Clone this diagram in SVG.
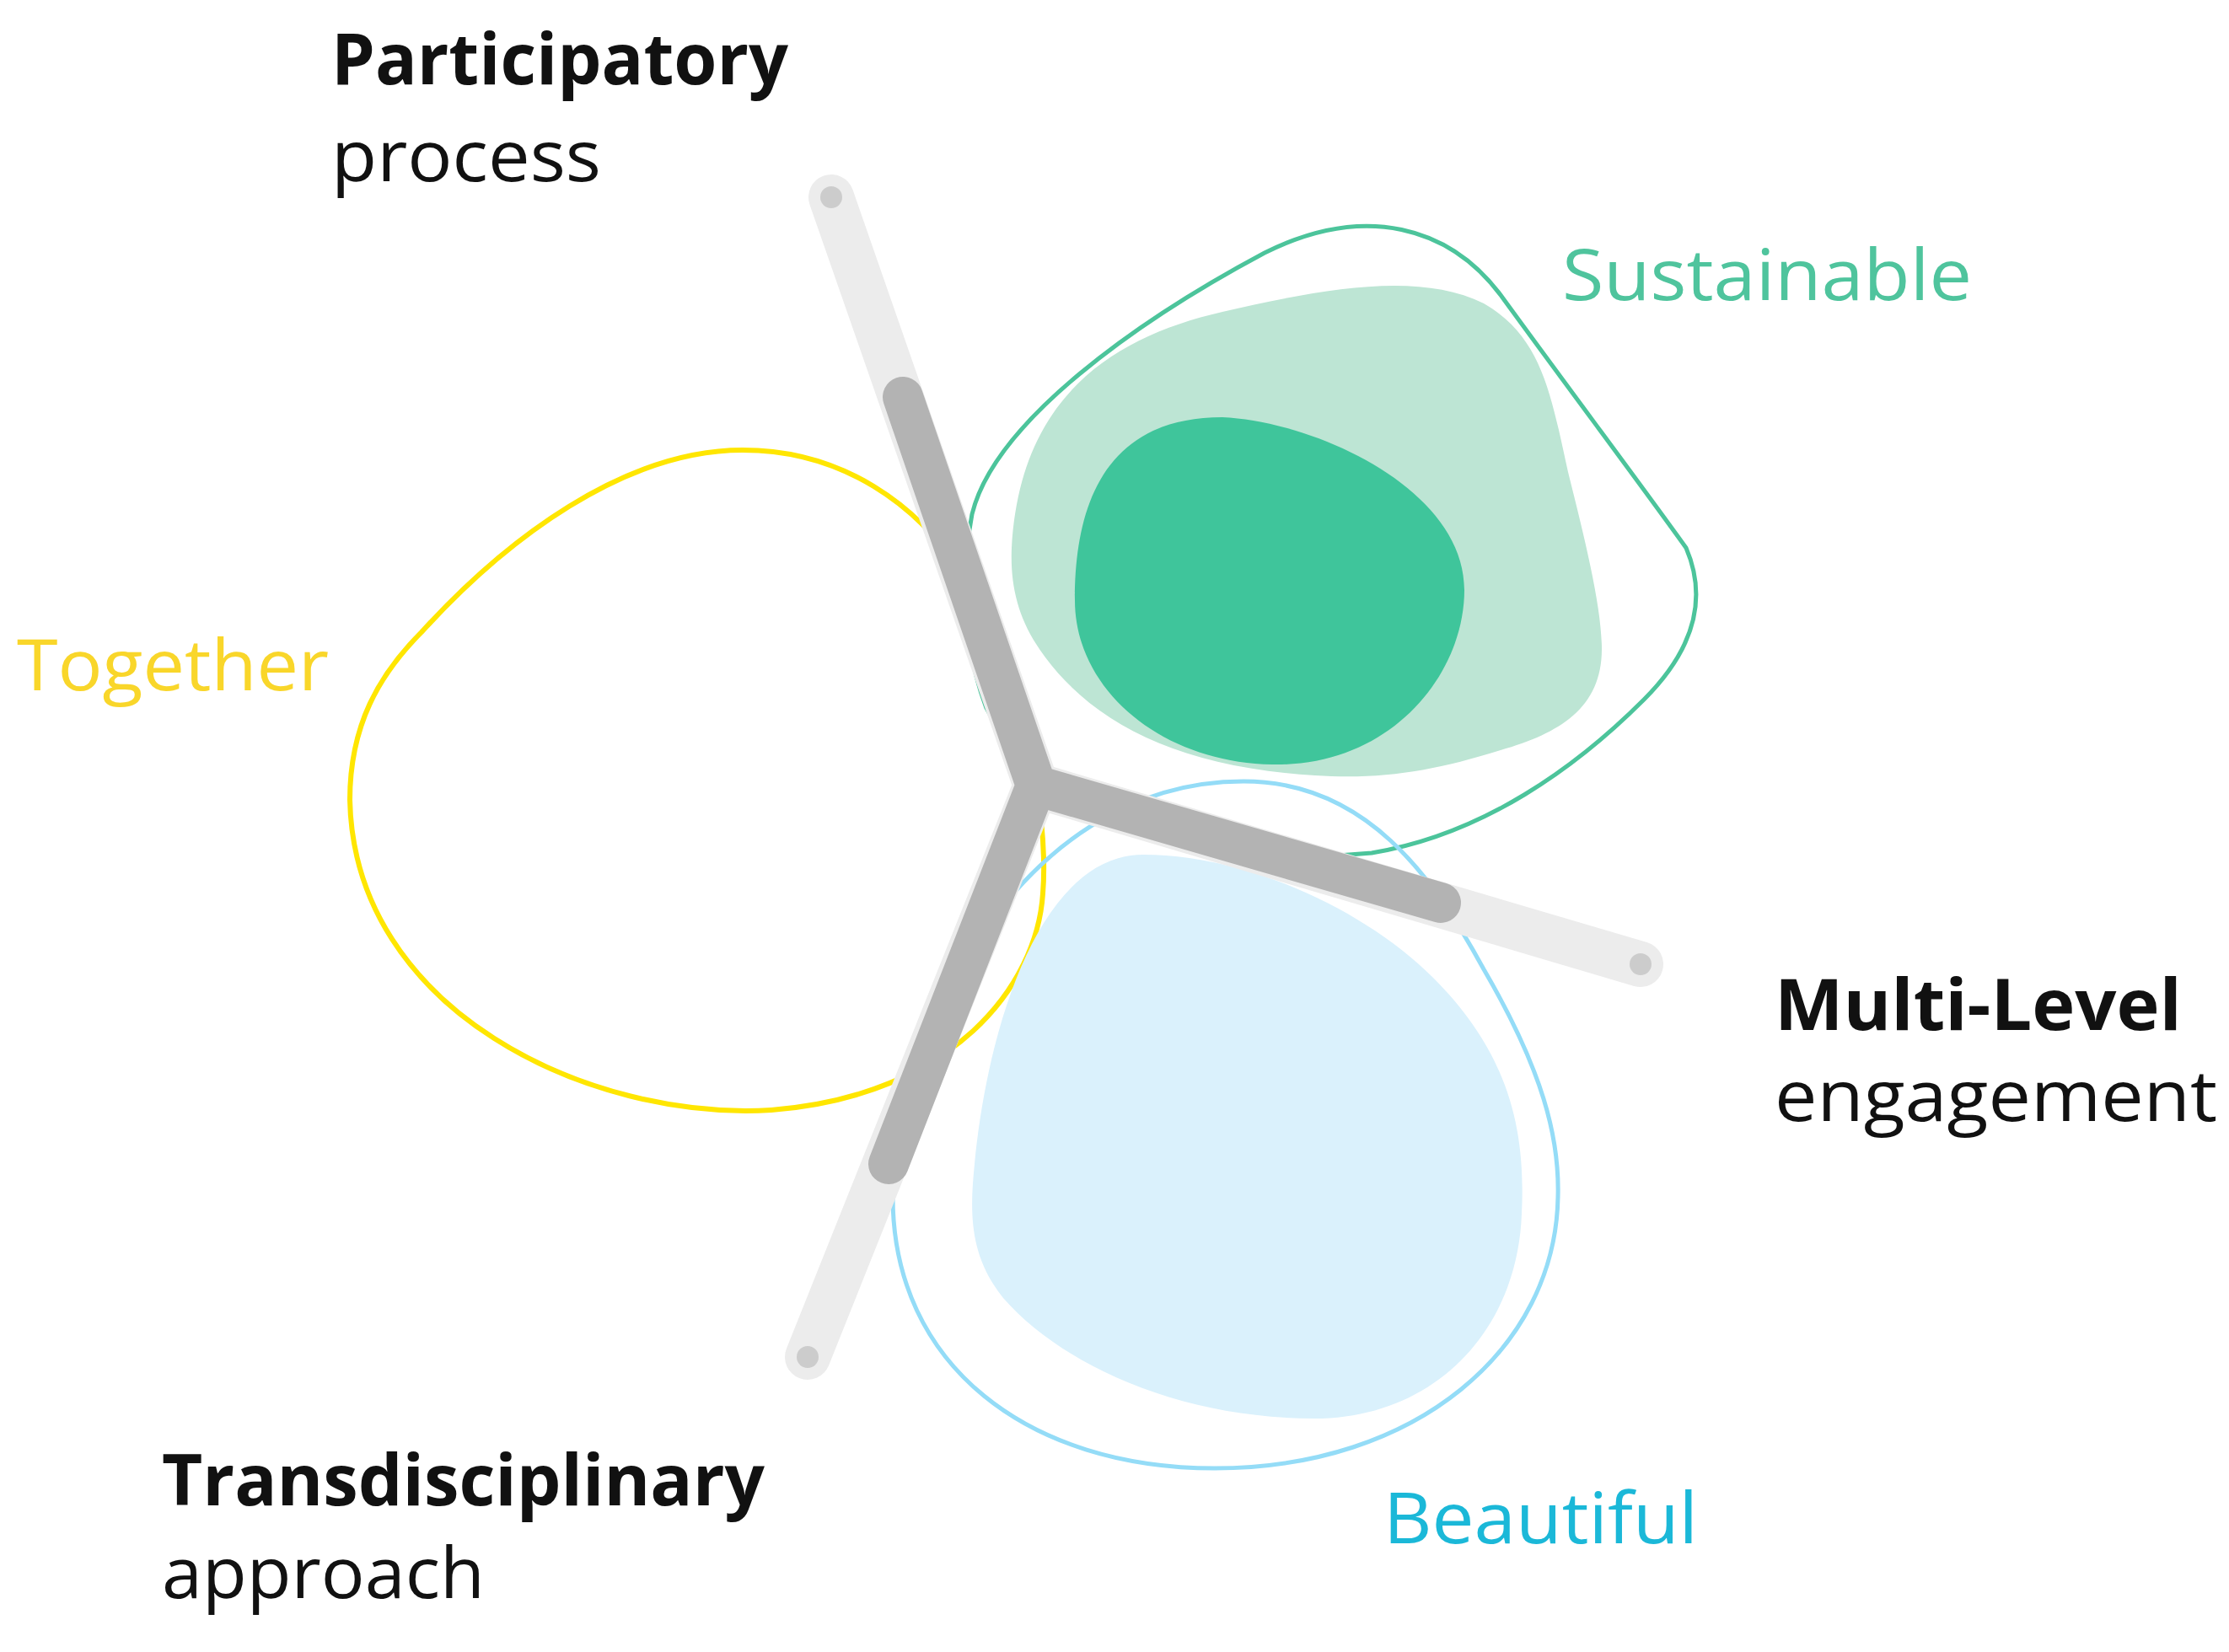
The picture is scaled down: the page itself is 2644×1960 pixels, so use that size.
<svg xmlns="http://www.w3.org/2000/svg" width="2644" height="1960" viewBox="0 0 2644 1960">
<style>
text{font-family:"Open Sans","Liberation Sans",sans-serif;font-size:84px}
.b{font-weight:bold;fill:#111}
.n{fill:#111}
.light{stroke:#ececec;stroke-width:54;stroke-linecap:round;fill:none}
.dark{stroke:#b3b3b3;stroke-width:48;stroke-linecap:round;stroke-linejoin:round;fill:none}
.dot{fill:#cccccc}
</style>
<rect width="2644" height="1960" fill="#fff"/>
<g id="together">
<path d="M881,534 C1000,534 1090,600 1140,680 C1210,790 1245,960 1237,1060 C1230,1170 1130,1300 915,1317 C700,1330 420,1200 415,949 C415,860 450,800 500,750 C600,640 740,534 881,534Z" fill="none" stroke="#ffe600" stroke-width="6"/>
<text x="20" y="819" fill="#f9d62a" textLength="370" lengthAdjust="spacingAndGlyphs">Together</text>
</g>
<g id="sustainable">
<path d="M1153,610 C1180,500 1350,380 1500,300 C1620,240 1720,270 1780,350 C1860,460 1950,580 2000,650 C2030,720 2000,780 1950,830 C1870,910 1760,990 1627,1012 C1450,1030 1230,960 1170,840 C1140,760 1140,680 1153,610Z" fill="none" stroke="#4cc49b" stroke-width="5"/>
<path d="M1200,650 C1210,470 1320,400 1450,370 C1560,345 1680,320 1760,360 C1830,400 1840,470 1860,560 C1880,640 1900,720 1900,770 C1900,840 1850,870 1780,890 C1700,915 1640,925 1560,920 C1400,910 1300,860 1240,780 C1210,740 1198,700 1200,650Z" fill="#bde5d4"/>
<path d="M1275,712 C1275,600 1310,495 1450,495 C1560,500 1737,580 1737,700 C1737,800 1650,910 1509,907 C1380,905 1275,820 1275,712Z" fill="#3fc59b"/>
<text x="1853" y="356" fill="#4fc49d" textLength="486" lengthAdjust="spacingAndGlyphs">Sustainable</text>
</g>
<g id="beautiful">
<path d="M1475,927 C1620,927 1700,1040 1760,1150 C1830,1270 1850,1350 1848,1420 C1845,1600 1680,1742 1441,1742 C1220,1742 1059,1620 1059,1420 C1059,1250 1200,927 1475,927Z" fill="none" stroke="#94dcf7" stroke-width="5"/>
<path d="M1356,1014 C1480,1014 1620,1080 1700,1160 C1790,1250 1810,1340 1805,1440 C1800,1580 1700,1683 1559,1683 C1400,1683 1260,1620 1190,1540 C1150,1490 1150,1440 1156,1381 C1170,1230 1230,1014 1356,1014Z" fill="#daf1fc"/>
<text x="1641" y="1831" fill="#1bb8d8" textLength="373" lengthAdjust="spacingAndGlyphs">Beautiful</text>
</g>
<g id="connectors">
<path class="light" d="M986,234 L1229,932 M1229,932 L1946,1144 M1229,932 L958,1610"/>
<path class="dark" d="M1071,471 L1229,932 L1709,1071 M1229,932 L1054,1381"/>
<circle class="dot" cx="986" cy="234" r="13"/>
<circle class="dot" cx="1946" cy="1144" r="13"/>
<circle class="dot" cx="958" cy="1610" r="13"/>
</g>
<g id="participatory">
<text class="b" x="393" y="100" textLength="542" lengthAdjust="spacingAndGlyphs">Participatory</text>
<text class="n" x="393" y="215" textLength="320" lengthAdjust="spacingAndGlyphs">process</text>
</g>
<g id="multilevel">
<text class="b" x="2105" y="1222" textLength="483" lengthAdjust="spacingAndGlyphs">Multi-Level</text>
<text class="n" x="2105" y="1330" textLength="525" lengthAdjust="spacingAndGlyphs">engagement</text>
</g>
<g id="transdisciplinary">
<text class="b" x="192" y="1786" textLength="715" lengthAdjust="spacingAndGlyphs">Transdisciplinary</text>
<text class="n" x="192" y="1896" textLength="383" lengthAdjust="spacingAndGlyphs">approach</text>
</g>
</svg>
